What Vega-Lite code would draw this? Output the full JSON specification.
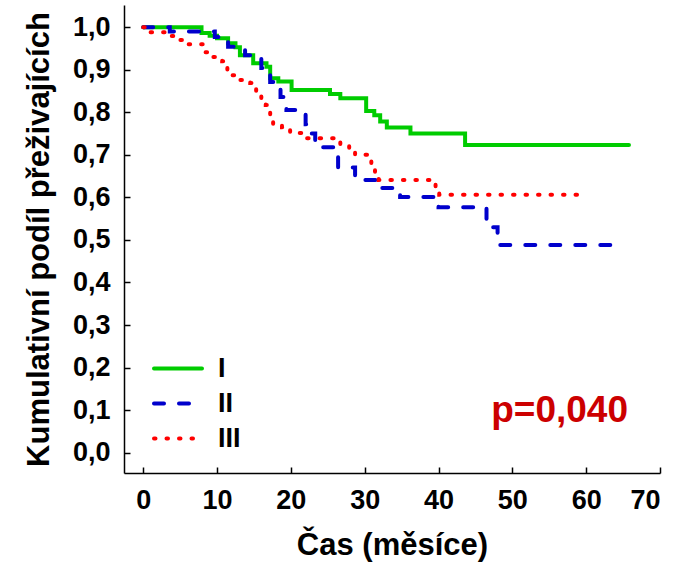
{
  "$schema": "https://vega.github.io/schema/vega-lite/v6.json",
  "width": 536,
  "height": 468,
  "autosize": {"type": "none"},
  "padding": {"left": 124, "top": 5, "right": 28, "bottom": 101},
  "background": "white",
  "config": {
    "view": {"stroke": null},
    "font": "Liberation Sans",
    "axis": {
      "grid": false,
      "domainColor": "black",
      "domainWidth": 1.5,
      "tickColor": "black",
      "tickWidth": 1.5,
      "tickSize": -6,
      "labelFont": "Liberation Sans",
      "labelFontWeight": "bold",
      "labelFontSize": 27,
      "labelColor": "black",
      "titleFont": "Liberation Sans",
      "titleFontWeight": "bold",
      "titleFontSize": 31,
      "titleColor": "black"
    }
  },
  "datasets": {
    "km": [
      {"g": "I", "t": 0, "s": 1.0},
      {"g": "I", "t": 7.9, "s": 0.986},
      {"g": "I", "t": 9.0, "s": 0.98},
      {"g": "I", "t": 10.0, "s": 0.974},
      {"g": "I", "t": 11.5, "s": 0.962},
      {"g": "I", "t": 12.5, "s": 0.953},
      {"g": "I", "t": 13.1, "s": 0.934},
      {"g": "I", "t": 14.9, "s": 0.915},
      {"g": "I", "t": 16.7, "s": 0.907},
      {"g": "I", "t": 17.2, "s": 0.88},
      {"g": "I", "t": 18.3, "s": 0.872},
      {"g": "I", "t": 20.1, "s": 0.852},
      {"g": "I", "t": 25.3, "s": 0.843},
      {"g": "I", "t": 26.7, "s": 0.833},
      {"g": "I", "t": 30.2, "s": 0.803},
      {"g": "I", "t": 31.3, "s": 0.793},
      {"g": "I", "t": 32.1, "s": 0.778},
      {"g": "I", "t": 33.0, "s": 0.764},
      {"g": "I", "t": 36.2, "s": 0.75},
      {"g": "I", "t": 43.6, "s": 0.723},
      {"g": "I", "t": 65.8, "s": 0.723},
      {"g": "II", "t": 0, "s": 1.0},
      {"g": "II", "t": 3.6, "s": 0.99},
      {"g": "II", "t": 9.7, "s": 0.977},
      {"g": "II", "t": 11.5, "s": 0.954},
      {"g": "II", "t": 13.8, "s": 0.934},
      {"g": "II", "t": 16.0, "s": 0.904},
      {"g": "II", "t": 17.2, "s": 0.871},
      {"g": "II", "t": 18.6, "s": 0.836},
      {"g": "II", "t": 19.4, "s": 0.805},
      {"g": "II", "t": 22.0, "s": 0.772},
      {"g": "II", "t": 22.6, "s": 0.75},
      {"g": "II", "t": 23.3, "s": 0.718},
      {"g": "II", "t": 26.4, "s": 0.67},
      {"g": "II", "t": 28.7, "s": 0.641},
      {"g": "II", "t": 31.8, "s": 0.622},
      {"g": "II", "t": 34.8, "s": 0.601},
      {"g": "II", "t": 40.0, "s": 0.577},
      {"g": "II", "t": 46.5, "s": 0.53},
      {"g": "II", "t": 48.0, "s": 0.488},
      {"g": "II", "t": 64.0, "s": 0.488},
      {"g": "III", "t": 0, "s": 1.0},
      {"g": "III", "t": 0.9, "s": 0.988},
      {"g": "III", "t": 3.6, "s": 0.979},
      {"g": "III", "t": 5.0, "s": 0.97},
      {"g": "III", "t": 6.1, "s": 0.96},
      {"g": "III", "t": 8.4, "s": 0.941},
      {"g": "III", "t": 9.5, "s": 0.93},
      {"g": "III", "t": 10.7, "s": 0.92},
      {"g": "III", "t": 11.4, "s": 0.899},
      {"g": "III", "t": 12.0, "s": 0.887},
      {"g": "III", "t": 13.1, "s": 0.876},
      {"g": "III", "t": 14.5, "s": 0.869},
      {"g": "III", "t": 15.3, "s": 0.848},
      {"g": "III", "t": 16.0, "s": 0.831},
      {"g": "III", "t": 16.6, "s": 0.817},
      {"g": "III", "t": 17.2, "s": 0.793},
      {"g": "III", "t": 17.6, "s": 0.77},
      {"g": "III", "t": 18.8, "s": 0.765},
      {"g": "III", "t": 19.9, "s": 0.751},
      {"g": "III", "t": 22.2, "s": 0.739},
      {"g": "III", "t": 26.4, "s": 0.735},
      {"g": "III", "t": 26.7, "s": 0.723},
      {"g": "III", "t": 27.9, "s": 0.716},
      {"g": "III", "t": 28.7, "s": 0.7},
      {"g": "III", "t": 30.9, "s": 0.68},
      {"g": "III", "t": 31.4, "s": 0.66},
      {"g": "III", "t": 31.9, "s": 0.641},
      {"g": "III", "t": 39.6, "s": 0.622},
      {"g": "III", "t": 40.1, "s": 0.606},
      {"g": "III", "t": 59.5, "s": 0.606}
    ],
    "note": [{"label": "p=0,040", "t": 56.4, "s": 0.073}]
  },
  "layer": [
    {
      "data": {"name": "km"},
      "mark": {"type": "line", "interpolate": "step-after", "strokeWidth": 4, "strokeCap": "round"},
      "encoding": {
        "x": {
          "field": "t", "type": "quantitative",
          "scale": {"domain": [-2.6, 70], "nice": false, "zero": false},
          "axis": {"values": [0, 10, 20, 30, 40, 50, 60, 70], "title": "Čas (měsíce)", "labelPadding": 20, "titlePadding": 17}
        },
        "y": {
          "field": "s", "type": "quantitative",
          "scale": {"domain": [-0.0477, 1.052], "nice": false, "zero": false},
          "axis": {
            "values": [0, 0.1, 0.2, 0.3, 0.4, 0.5, 0.6, 0.7, 0.8, 0.9, 1.0],
            "labelExpr": "replace(format(datum.value, '.1f'), '.', ',')",
            "title": "Kumulativní podíl přeživajících",
            "labelPadding": 20,
            "titlePadding": 17
          }
        },
        "color": {
          "field": "g", "type": "nominal",
          "scale": {"domain": ["I", "II", "III"], "range": ["#00cc00", "#0000cc", "#ff0000"]},
          "legend": {
            "title": null, "orient": "none", "legendX": 28, "legendY": 346,
            "symbolType": "stroke", "symbolSize": 2304, "symbolStrokeWidth": 4,
            "labelFont": "Liberation Sans", "labelFontWeight": "bold", "labelFontSize": 27, "labelColor": "black",
            "labelOffset": 14, "padding": 0, "rowPadding": 0, "clipHeight": 35,
            "encode": {"symbols": {"update": {"strokeCap": {"value": "round"}}}}
          }
        },
        "strokeDash": {
          "field": "g", "type": "nominal",
          "scale": {"domain": ["I", "II", "III"], "range": [[1, 0], [10, 15], [1.5, 11]]},
          "legend": {
            "title": null, "orient": "none", "legendX": 28, "legendY": 346,
            "symbolType": "stroke", "symbolSize": 2304, "symbolStrokeWidth": 4,
            "labelFont": "Liberation Sans", "labelFontWeight": "bold", "labelFontSize": 27, "labelColor": "black",
            "labelOffset": 14, "padding": 0, "rowPadding": 0, "clipHeight": 35,
            "encode": {"symbols": {"update": {"strokeCap": {"value": "round"}}}}
          }
        }
      }
    },
    {
      "data": {"name": "note"},
      "mark": {"type": "text", "font": "Liberation Sans", "fontWeight": "bold", "fontSize": 37, "color": "#cc0000", "align": "center", "baseline": "alphabetic"},
      "encoding": {
        "x": {"field": "t", "type": "quantitative"},
        "y": {"field": "s", "type": "quantitative"},
        "text": {"field": "label"}
      }
    }
  ]
}
